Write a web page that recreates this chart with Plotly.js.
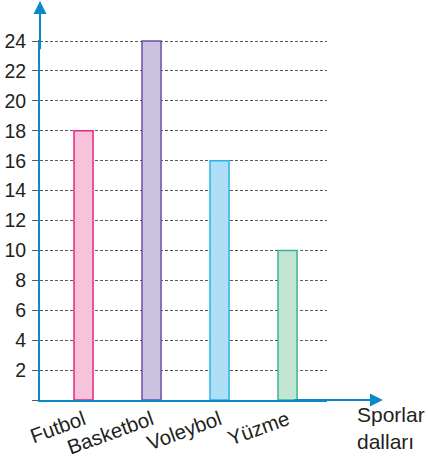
<!DOCTYPE html>
<html><head><meta charset="utf-8">
<script src="https://cdn.plot.ly/plotly-3.0.1.min.js"></script>
<style>html,body{margin:0;padding:0;background:#fff;}#chart{width:428px;height:459px;}</style>
</head><body><div id="chart"></div>
<script>
const categories = ["Futbol", "Basketbol", "Voleybol", "Yüzme"];
const values = [18, 24, 16, 10];
const fillColors = ["#f7c3da", "#cbc1e0", "#b0def6", "#c3e5d4"];
const lineColors = ["#e6268c", "#6e4fa6", "#2ab4ea", "#3bb78a"];
const yTickVals = [0, 2, 4, 6, 8, 10, 12, 14, 16, 18, 20, 22, 24];
const yTickText = ["", "2", "4", "6", "8", "10", "12", "14", "16", "18", "20", "22", "24"];
const xAxisLabel = "Sporlar<br>dalları";

const trace = {
  type: "bar",
  x: categories,
  y: values,
  width: 0.28,
  marker: { color: fillColors, line: { color: lineColors, width: 1.5 } },
  hoverinfo: "none"
};

const blue = "#0a88c8";
const layout = {
  width: 428, height: 459,
  margin: { l: 40, r: 101, t: 40, b: 59 },
  paper_bgcolor: "#fff", plot_bgcolor: "#fff",
  showlegend: false,
  font: { family: "Liberation Sans, Arial, sans-serif", color: "#231f20", size: 19 },
  xaxis: {
    range: [-0.64, 3.58],
    showgrid: false, zeroline: false,
    showline: true, linecolor: blue, linewidth: 2,
    ticks: "", tickangle: -20,
    tickfont: { size: 20.5, color: "#231f20" },
    ticklabelstandoff: -2,
    automargin: false,
    fixedrange: true
  },
  yaxis: {
    range: [0, 24.07],
    tickvals: yTickVals, ticktext: yTickText,
    showgrid: true, gridcolor: "#5a5a5a", gridwidth: 1, griddash: "3px,2px",
    zeroline: false,
    showline: true, linecolor: blue, linewidth: 2,
    ticks: "outside", ticklen: 6, tickcolor: "#5a5a5a", tickwidth: 1,
    tickfont: { size: 19.5, color: "#231f20" },
    ticklabelstandoff: 2,
    automargin: false,
    fixedrange: true
  },
  annotations: [
    { xref: "paper", yref: "paper", x: 0, y: 1.109, ax: 0, ay: 50, axref: "pixel", ayref: "pixel",
      showarrow: true, arrowhead: 2, arrowsize: 1.3, arrowwidth: 2, arrowcolor: blue, standoff: 0, text: "" },
    { xref: "paper", yref: "paper", x: 1.195, y: 0, ax: -90, ay: 0,
      showarrow: true, arrowhead: 2, arrowsize: 1.3, arrowwidth: 2, arrowcolor: blue, standoff: 0, text: "" },
    { xref: "paper", yref: "paper", x: 1.098, y: -0.002, xanchor: "left", yanchor: "top",
      showarrow: false, align: "left", text: xAxisLabel, font: { size: 21, color: "#231f20" } }
  ]
};

Plotly.newPlot("chart", [trace], layout, { displayModeBar: false, staticPlot: true });
</script>
</body></html>
